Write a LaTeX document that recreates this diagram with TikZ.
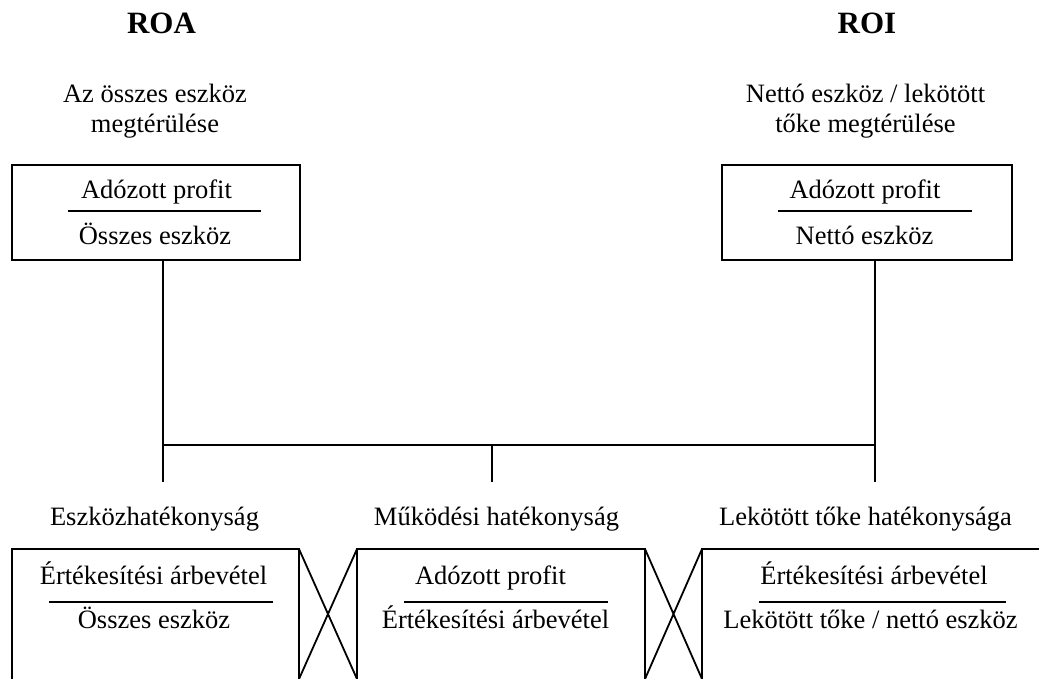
\documentclass[tikz,border=0pt]{standalone}
\usepackage{fontspec}
\setmainfont{Liberation Serif}
\begin{document}
\begin{tikzpicture}[x=1pt,y=-1pt,
  lbl/.style={inner sep=0pt,anchor=base,font=\fontsize{26.5}{32}\selectfont},
  ttl/.style={inner sep=0pt,anchor=base,font=\fontsize{31}{36}\selectfont\bfseries},
  box/.style={draw,line width=1.8pt,inner sep=0pt,minimum height=95pt},
  ln/.style={line width=1.8pt},
  bar/.style={line width=2pt}]
\useasboundingbox (0,0) rectangle (1039,679);

% headings
\node[ttl] (roa) at (161.5,34) {ROA};
\node[ttl] (roi) at (867,34) {ROI};
\node[lbl] (roa1) at (155,103) {Az összes eszköz};
\node[lbl] (roa2) at (155,133) {megtérülése};
\node[lbl] (roi1) at (865.5,103) {Nettó eszköz / lekötött};
\node[lbl] (roi2) at (865.5,133) {tőke megtérülése};

% upper ratio boxes
\node[box,minimum width=288pt] (lbox) at (156,212.5) {};
\node[box,minimum width=290pt] (rbox) at (867,212.5) {};
\node[lbl] (lnum) at (156.5,199) {Adózott profit};
\node[lbl] (lden) at (155,245) {Összes eszköz};
\draw[bar] (68,211) -- (261,211);
\node[lbl] (rnum) at (865,199) {Adózott profit};
\node[lbl] (rden) at (864.5,245) {Nettó eszköz};
\draw[bar] (778,211) -- (972,211);

% connecting tree
\coordinate (jl) at (163,445);
\coordinate (jm) at (492,445);
\coordinate (jr) at (875,445);
\coordinate (el) at (163,482);
\coordinate (em) at (492,482);
\coordinate (er) at (875,482);
\draw[ln] (lbox.south -| jl) -- (el);
\draw[ln] (rbox.south -| jr) -- (er);
\draw[ln] (jl) -- (jr);
\draw[ln] (jm) -- (em);

% lower labels
\node[lbl] (ahat) at (154.5,525) {Eszközhatékonyság};
\node[lbl] (mhat) at (496.5,525) {Működési hatékonyság};
\node[lbl] (thati) at (865.5,525) {Lekötött tőke hatékonysága};

% lower boxes, open at the bottom and right edge
\draw[ln] (12,690) -- (12,549) -- (299,549) -- (299,690);
\draw[ln] (357,690) -- (357,549) -- (645,549) -- (645,690);
\draw[ln] (702,690) -- (702,549) -- (1045,549);
\draw[ln] (299,549) -- (357,679) (357,549) -- (299,679);
\draw[ln] (645,549) -- (702,679) (702,549) -- (645,679);

\node[lbl] (b1n) at (153.5,584) {Értékesítési árbevétel};
\node[lbl] (b1d) at (154,628) {Összes eszköz};
\draw[bar] (49,602) -- (273,602);
\node[lbl] (b2n) at (490.5,584) {Adózott profit};
\node[lbl] (b2d) at (495.5,628) {Értékesítési árbevétel};
\draw[bar] (404,602) -- (608,602);
\node[lbl] (b3n) at (874,584) {Értékesítési árbevétel};
\node[lbl] (b3d) at (870.5,628) {Lekötött tőke / nettó eszköz};
\draw[bar] (759,602) -- (1006,602);
\end{tikzpicture}
\end{document}
